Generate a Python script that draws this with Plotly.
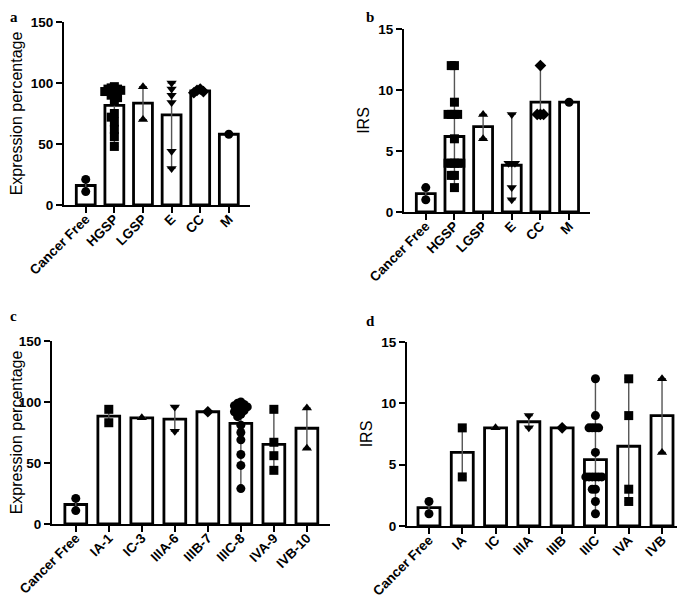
import plotly.graph_objects as go

# page has an 8px body margin; figure is sized/positioned to compensate
OFF = 8
W, H = 685 - OFF, 601 - OFF

# ---------------- data ----------------
cats_a = ["Cancer Free", "HGSP", "LGSP", "E", "CC", "M"]
expr_a = [
    [21, 11],
    [97, 96, 95, 95, 94, 93, 92, 90, 88, 85, 75, 72, 68, 62, 56, 48],
    [97, 70],
    [100, 95, 90, 84, 44, 30],
    [95, 94, 93, 92],
    [58],
]
irs_b = [
    [2, 1],
    [12, 12, 9, 8, 8, 8, 8, 6, 4, 4, 4, 4, 4, 3, 3, 2],
    [8, 6],
    [8, 4, 4, 4, 2, 1],
    [12, 8, 8, 8],
    [9],
]
cats_c = ["Cancer Free", "IA-1", "IC-3", "IIIA-6", "IIIB-7", "IIIC-8", "IVA-9", "IVB-10"]
expr_c = [
    [21, 11],
    [94, 83],
    [87],
    [96, 76],
    [92],
    [100, 99, 98, 97, 96, 95, 94, 93, 92, 90, 88, 81, 75, 69, 57, 48, 29],
    [94, 67, 56, 44],
    [95, 62],
]
cats_d = ["Cancer Free", "IA", "IC", "IIIA", "IIIB", "IIIC", "IVA", "IVB"]
irs_d = [
    [2, 1],
    [8, 4],
    [8],
    [9, 8],
    [8],
    [12, 9, 8, 8, 8, 8, 6, 4, 4, 4, 4, 4, 4, 3, 3, 2, 1],
    [12, 9, 3, 2],
    [12, 6],
]
symbols_6 = ["circle", "square", "triangle-up", "triangle-down", "diamond", "circle"]
symbols_8 = ["circle", "square", "triangle-up", "triangle-down", "diamond", "circle", "square", "triangle-up"]

# ---------------- layout geometry (screen pixels) ----------------
panels = [
    dict(cats=cats_a, data=expr_a, sym=symbols_6, xpx=(64, 250), ypx=(22, 205),
         xr=(-0.76, 5.74), ymax=150, dt=50, title="Expression percentage", letter="a",
         lpos=(OFF + 1, OFF), lx="left", ly="top"),
    dict(cats=cats_a, data=irs_b, sym=symbols_6, xpx=(404, 590), ypx=(29, 212),
         xr=(-0.76, 5.73), ymax=15, dt=5, title="IRS", letter="b",
         lpos=(365, OFF), lx="left", ly="top"),
    dict(cats=cats_c, data=expr_c, sym=symbols_8, xpx=(52, 330), ypx=(341, 524),
         xr=(-0.72, 7.70), ymax=150, dt=50, title="Expression percentage", letter="c",
         lpos=(OFF + 1, 316), lx="left", ly="middle"),
    dict(cats=cats_d, data=irs_d, sym=symbols_8, xpx=(407, 683), ypx=(342, 526),
         xr=(-0.66, 7.63), ymax=15, dt=5, title="IRS", letter="d",
         lpos=(365, 321), lx="left", ly="middle"),
]

MSIZE = 9


def swarm(vals, px_per_y, px_per_x, msize=MSIZE):
    """Simple beeswarm offsets (x units) so overlapping points spread sideways."""
    step = 3.2 / px_per_x
    placed = []
    offs = []
    cands = [0]
    for i in range(1, 10):
        cands += [-i, i]
    for v in vals:
        chosen = 0
        for c in cands:
            if all(not (pc == c and abs(v - pv) * px_per_y < 0.6 * msize) for pv, pc in placed):
                chosen = c
                break
        placed.append((v, chosen))
        offs.append(chosen * step)
    return offs


def fx(px):
    return (px - OFF) / W


def fy(py):
    return 1 - (py - OFF) / H


fig = go.Figure()
FONT = "Liberation Sans, Arial, sans-serif"

for i, p in enumerate(panels, start=1):
    xa = "x" if i == 1 else f"x{i}"
    ya = "y" if i == 1 else f"y{i}"
    n = len(p["cats"])
    idx = list(range(n))
    means = [sum(v) / len(v) for v in p["data"]]
    hi = [max(v) - m for v, m in zip(p["data"], means)]
    lo = [m - min(v) for v, m in zip(p["data"], means)]

    fig.add_trace(go.Bar(
        x=idx, y=means, width=0.66, xaxis=xa, yaxis=ya,
        marker=dict(color="white", line=dict(color="black", width=2.8)),
        error_y=dict(type="data", symmetric=False, array=hi, arrayminus=lo,
                     color="#555555", thickness=1.4, width=4),
        hoverinfo="skip",
    ))

    px_per_y = (p["ypx"][1] - p["ypx"][0]) / p["ymax"]
    px_per_x = (p["xpx"][1] - p["xpx"][0]) / (p["xr"][1] - p["xr"][0])
    for j, vals in enumerate(p["data"]):
        offs = swarm(vals, px_per_y, px_per_x)
        fig.add_trace(go.Scatter(
            x=[j + o for o in offs], y=vals, mode="markers", xaxis=xa, yaxis=ya,
            marker=dict(symbol=p["sym"][j], size=MSIZE, color="black", line=dict(width=0)),
            cliponaxis=False, hoverinfo="skip",
        ))

    xkey = "xaxis" if i == 1 else f"xaxis{i}"
    ykey = "yaxis" if i == 1 else f"yaxis{i}"
    fig.layout[xkey] = dict(
        domain=[fx(p["xpx"][0]), min(1.0, fx(p["xpx"][1]))],
        anchor=ya, range=list(p["xr"]), automargin=False,
        tickmode="array", tickvals=idx, ticktext=p["cats"], tickangle=-45,
        ticklabelstandoff=-7,
        showline=True, linecolor="black", linewidth=2,
        ticks="outside", ticklen=6, tickwidth=2, tickcolor="black",
        showgrid=False, zeroline=False,
        tickfont=dict(family=FONT, size=13.5, color="black", weight="bold"),
    )
    fig.layout[ykey] = dict(
        domain=[fy(p["ypx"][1]), fy(p["ypx"][0])],
        anchor=xa, range=[0, p["ymax"]], automargin=False,
        tickmode="linear", tick0=0, dtick=p["dt"],
        showline=True, linecolor="black", linewidth=2,
        ticks="outside", ticklen=6, tickwidth=2, tickcolor="black",
        showgrid=False, zeroline=False,
        tickfont=dict(family=FONT, size=13.5, color="black", weight="bold"),
        title=dict(text=p["title"], font=dict(family=FONT, size=16, color="black"), standoff=5),
    )
    fig.add_annotation(
        x=fx(p["lpos"][0]), y=fy(p["lpos"][1]), xref="paper", yref="paper",
        text=f"<b>{p['letter']}</b>", showarrow=False, xanchor=p["lx"], yanchor=p["ly"],
        borderpad=0,
        font=dict(family="Liberation Serif, Times New Roman, serif", size=15, color="black"),
    )

fig.update_layout(
    template="none",
    width=W, height=H, margin=dict(l=0, r=0, t=0, b=0, autoexpand=False),
    paper_bgcolor="white", plot_bgcolor="white", showlegend=False,
)

fig.write_html("out.html")
